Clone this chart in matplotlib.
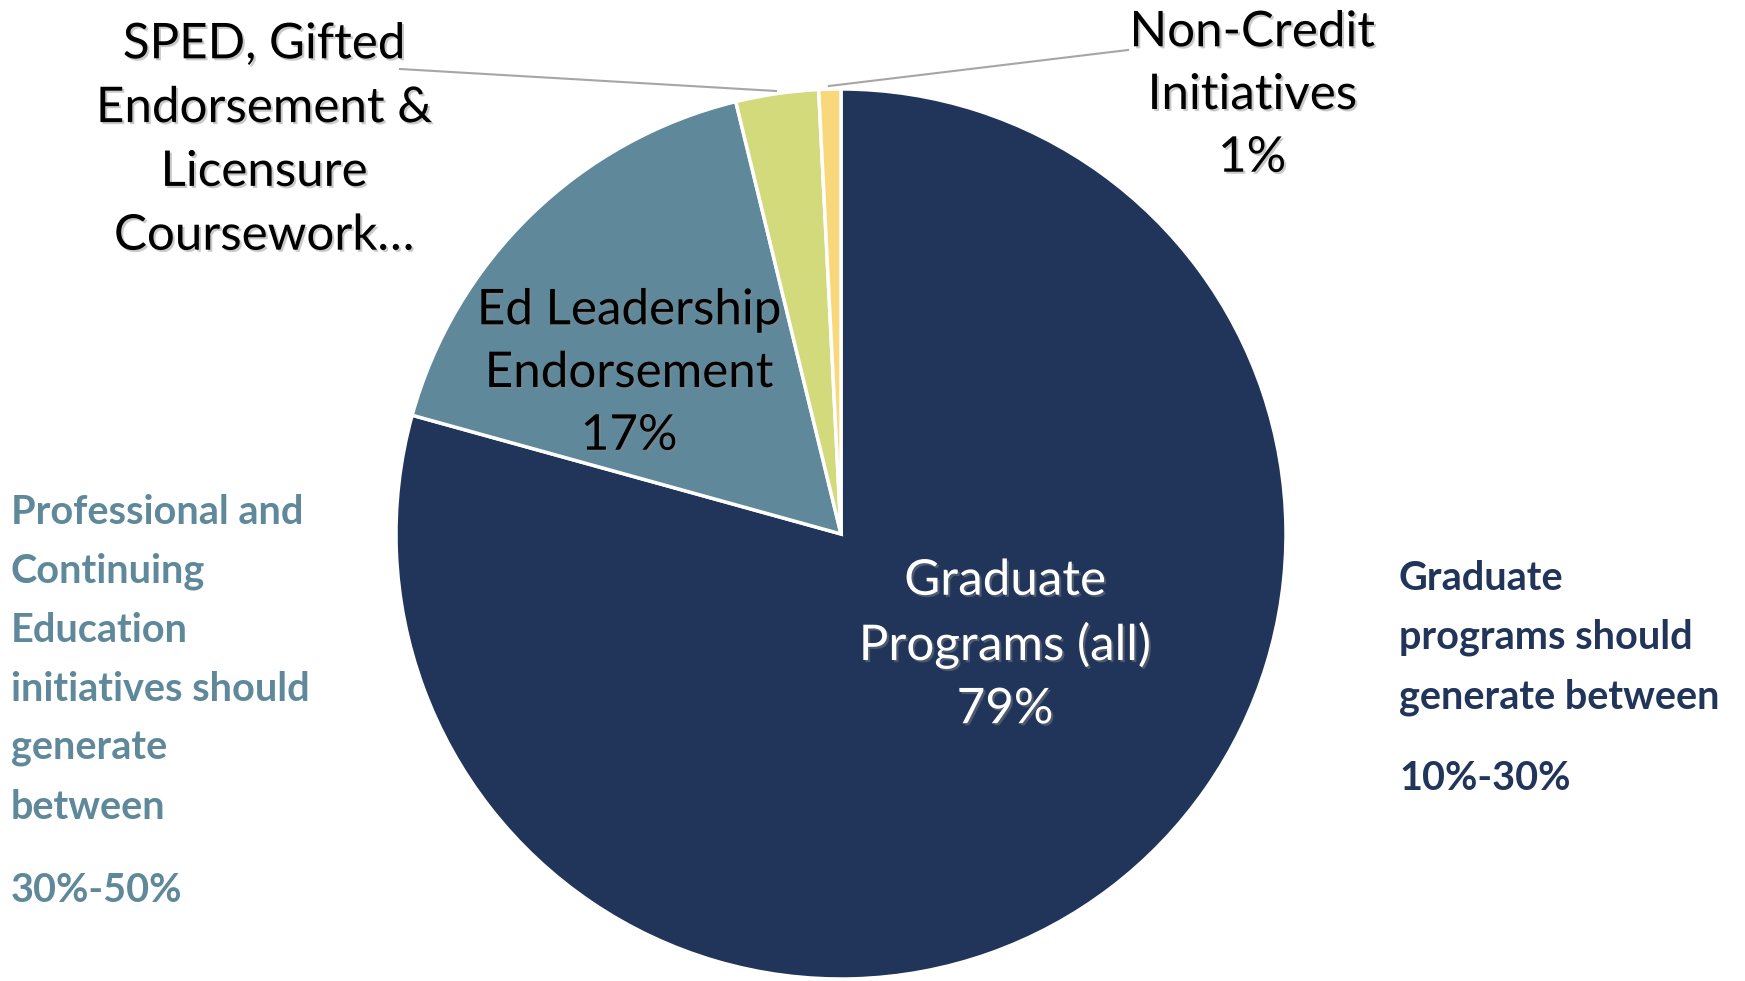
import matplotlib
matplotlib.use("Agg")
import matplotlib.pyplot as plt
import matplotlib.patheffects as pe

# ---- data ----
categories = ["Graduate Programs (all)", "Ed Leadership Endorsement",
              "SPED, Gifted Endorsement & Licensure Coursework", "Non-Credit Initiatives"]
shares = [79.3, 16.9, 3.0, 0.8]
slice_labels = ["Graduate\nPrograms (all)", "Ed Leadership\nEndorsement",
                "SPED, Gifted\nEndorsement &\nLicensure\nCoursework\u2026", "Non-Credit\nInitiatives"]
show_pct = [True, True, False, True]
colors = ["#21345A", "#5F899B", "#D3DA7C", "#F9D77B"]
left_note = "Professional and\nContinuing\nEducation\ninitiatives should\ngenerate\nbetween"
left_range = "30%-50%"
right_note = "Graduate\nprograms should\ngenerate between"
right_range = "10%-30%"

plt.rcParams["font.family"] = ["Lato", "DejaVu Sans"]

W, H = 1745, 981
fig = plt.figure(figsize=(W / 100, H / 100), dpi=100)
ax = fig.add_axes([0, 0, 1, 1])

cx, cy, r = 841, H - 534, 445
wedges, _ = ax.pie(shares, colors=colors, startangle=90, counterclock=False,
                   center=(cx, cy), radius=r, frame=True,
                   wedgeprops=dict(edgecolor="white", linewidth=2.5))
ax.set_xlim(0, W)
ax.set_ylim(0, H)
ax.set_aspect("equal")
ax.axis("off")

shadow = [pe.withSimplePatchShadow(offset=(1.5, -1.5), shadow_rgbFace="#888888", alpha=0.45)]

def lab(i):
    t = slice_labels[i]
    if show_pct[i]:
        t += f"\n{round(shares[i])}%"
    return t

fs = 35.5
ls = 1.52
# Graduate label (inside, white)
ax.text(1005, H - 645, lab(0), color="white", fontsize=fs, ha="center", va="center",
        linespacing=ls, path_effects=shadow)
# Ed Leadership label (inside, black)
ax.text(629, H - 373, lab(1), color="black", fontsize=fs, ha="center", va="center",
        linespacing=ls, path_effects=shadow)
# SPED label outside with leader
ax.text(264, H - 140, lab(2), color="black", fontsize=fs, ha="center", va="center",
        linespacing=1.55, path_effects=shadow)
ax.plot([400, 776], [H - 69, H - 91], color="#A6A6A6", lw=1.5)
# Non-Credit label outside with leader
ax.text(1252, H - 95, lab(3), color="black", fontsize=fs, ha="center", va="center",
        linespacing=ls, path_effects=shadow)
ax.plot([1128, 829], [H - 50, H - 86], color="#A6A6A6", lw=1.5)

# side notes
nfs = 28.5
nls = 1.73
ax.text(11, H - 660, left_note, color="#5F899B", fontsize=nfs, fontweight="bold",
        ha="left", va="center", linespacing=nls)
ax.text(11, H - 891, left_range, color="#5F899B", fontsize=nfs, fontweight="bold",
        ha="left", va="center")
ax.text(1399, H - 638, right_note, color="#21345A", fontsize=nfs, fontweight="bold",
        ha="left", va="center", linespacing=nls)
ax.text(1399, H - 778, right_range, color="#21345A", fontsize=nfs, fontweight="bold",
        ha="left", va="center")

fig.savefig("out.png", dpi=100, facecolor="white")
